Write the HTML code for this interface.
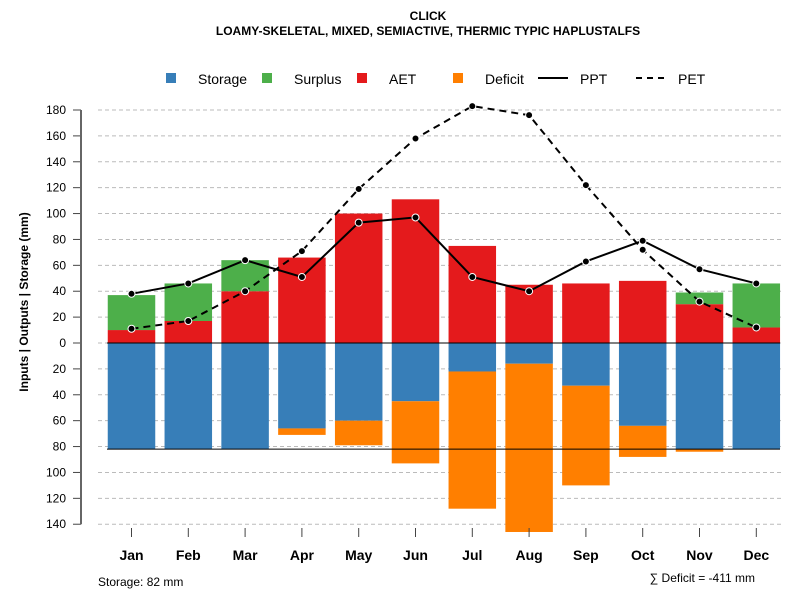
<!DOCTYPE html>
<html><head><meta charset="utf-8"><style>
body{margin:0;background:#fff}
svg text{font-family:"Liberation Sans",Arial,sans-serif}
</style></head><body>
<svg id="c" width="800" height="600" xmlns="http://www.w3.org/2000/svg">
<text x="428" y="20" font-size="12" font-weight="bold" text-anchor="middle">CLICK</text>
<text x="428" y="35" font-size="12" font-weight="bold" text-anchor="middle">LOAMY-SKELETAL, MIXED, SEMIACTIVE, THERMIC TYPIC HAPLUSTALFS</text>
<g font-size="14">
<rect x="166" y="73" width="10" height="10" fill="#377eb8"/><text x="198" y="84">Storage</text>
<rect x="262" y="73" width="10" height="10" fill="#4daf4a"/><text x="294" y="84">Surplus</text>
<rect x="357" y="73" width="10" height="10" fill="#e41a1c"/><text x="389" y="84">AET</text>
<rect x="453" y="73" width="10" height="10" fill="#ff7f00"/><text x="485" y="84">Deficit</text>
<line x1="538" y1="78" x2="568" y2="78" stroke="#000" stroke-width="2"/><text x="580" y="84">PPT</text>
<line x1="636" y1="78" x2="666" y2="78" stroke="#000" stroke-width="2" stroke-dasharray="6,5"/><text x="678" y="84">PET</text>
</g>
<g id="grid"></g><g id="bars"></g><g id="lines"></g><g id="axes"></g>
<text transform="translate(28,302) rotate(-90)" font-size="12" font-weight="bold" text-anchor="middle">Inputs | Outputs | Storage    (mm)</text>
<text x="98" y="586" font-size="12">Storage: 82 mm</text>
<text x="755" y="582" font-size="12" text-anchor="end">∑ Deficit = -411 mm</text>
</svg>
<script>
const months=["Jan","Feb","Mar","Apr","May","Jun","Jul","Aug","Sep","Oct","Nov","Dec"];
const storage=[82,82,82,66,60,45,22,16,33,64,82,82];
const deficit=[0,0,0,5,19,48,106,130,77,24,2,0];
const aet=[10,17,40,66,100,111,75,45,46,48,30,12];
const surplus=[27,29,24,0,0,0,0,0,0,0,9,34];
const ppt=[38,46,64,51,93,97,51,40,63,79,57,46];
const pet=[11,17,40,71,119,158,183,176,122,72,32,12];
const yTicks=[180,160,140,120,100,80,60,40,20,0,20,40,60,80,100,120,140];
const yVals=[180,160,140,120,100,80,60,40,20,0,-20,-40,-60,-80,-100,-120,-140];
const maxStorage=82;
const NS="http://www.w3.org/2000/svg";
const y=v=>343-v*(233/180);
const x=i=>131.5+56.8*i;
const bw=47.5;
function mk(p,t,a){const e=document.createElementNS(NS,t);for(const k in a)e.setAttribute(k,a[k]);document.getElementById(p).appendChild(e);return e;}
yVals.forEach((v,i)=>{
 const g=mk("grid","line",{x1:98,x2:782,y1:y(v),y2:y(v),stroke:"#bbb","stroke-dasharray":"4,3"});
 
 
 const t=mk("axes","line",{x1:73,x2:81,y1:y(v),y2:y(v),stroke:"#444"});
 
 
 const l=mk("axes","text",{x:66,y:y(v)+4,"font-size":12,"text-anchor":"end"});l.textContent=yTicks[i];
 
 
});
const ax=mk("axes","line",{x1:81,x2:81,y1:y(yVals[0]),y2:y(yVals[yVals.length-1]),stroke:"#666","stroke-width":2});


months.forEach((m,i)=>{
 const cx=x(i),x0=cx-bw/2;
 const r1=mk("bars","rect",{x:x0,y:y(0),width:bw,height:y(-storage[i])-y(0),fill:"#377eb8"});
 
 
 if(deficit[i]>0){const r=mk("bars","rect",{x:x0,y:y(-storage[i]),width:bw,height:y(-storage[i]-deficit[i])-y(-storage[i]),fill:"#ff7f00"});
 
 }
 const r2=mk("bars","rect",{x:x0,y:y(aet[i]),width:bw,height:y(0)-y(aet[i]),fill:"#e41a1c"});
 
 
 if(surplus[i]>0){const r=mk("bars","rect",{x:x0,y:y(aet[i]+surplus[i]),width:bw,height:y(aet[i])-y(aet[i]+surplus[i]),fill:"#4daf4a"});
 
 }
 const tk=mk("axes","line",{x1:cx,x2:cx,y1:528,y2:537,stroke:"#444"});
 
 
 const lb=mk("axes","text",{x:cx,y:560,"font-size":14,"font-weight":"bold","text-anchor":"middle"});lb.textContent=m;
 
 
});
const z=mk("bars","line",{x1:107,x2:780,y1:y(0),y2:y(0),stroke:"#000"});


const s=mk("bars","line",{x1:107,x2:780,y1:y(-maxStorage),y2:y(-maxStorage),stroke:"#000"});


function series(arr,name,dash){
 const pl=mk("lines","polyline",{points:arr.map((v,i)=>x(i)+","+y(v)).join(" "),fill:"none",stroke:"#000","stroke-width":2,"stroke-dasharray":dash});
 
 
 arr.forEach((v,i)=>{const c=mk("lines","circle",{cx:x(i),cy:y(v),r:3.5,fill:"#000",stroke:"#fff","stroke-width":1});
 
 });
}
series(ppt,"ppt","none");
series(pet,"pet","7,5");
</script>
</body></html>
